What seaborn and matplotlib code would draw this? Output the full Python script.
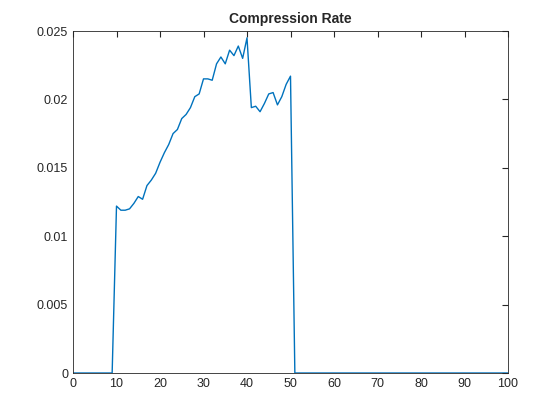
import matplotlib
matplotlib.use("Agg")
import matplotlib.pyplot as plt
import seaborn as sns
import numpy as np

sns.set_style("white")
plt.rcParams['font.family'] = ['Liberation Sans', 'DejaVu Sans']

x = list(range(0, 101))
mid = [0.0122, 0.0119, 0.0119, 0.0120, 0.0124, 0.0129, 0.0127, 0.0137, 0.0141, 0.0146,
       0.0154, 0.0161, 0.0167, 0.0175, 0.0178, 0.0186, 0.0189, 0.0194, 0.0202, 0.0204,
       0.0215, 0.0215, 0.0214, 0.0226, 0.0231, 0.0226, 0.0236, 0.0232, 0.0239, 0.0230,
       0.0245, 0.0194, 0.0195, 0.0191, 0.0197, 0.0204, 0.0205, 0.0196, 0.0202, 0.0211,
       0.0217]
rate = [0.0] * 10 + mid + [0.0] * 50

fig = plt.figure(figsize=(5.6, 4.2), dpi=100)
ax = fig.add_axes([73/560, 1-373/420, 435/560, 342/420])
sns.lineplot(x=x, y=rate, ax=ax, color='#0072BD', linewidth=1)
ax.set_xlim(0, 100)
ax.set_ylim(0, 0.025)
ax.set_xticks(range(0, 101, 10))
ax.set_yticks([0, 0.005, 0.01, 0.015, 0.02, 0.025])
ax.set_yticklabels(['0', '0.005', '0.01', '0.015', '0.02', '0.025'])
ax.tick_params(direction='in', length=4, labelsize=9, top=True, right=True, color='#262626', labelcolor='#262626')
for s in ax.spines.values():
    s.set_color('#262626'); s.set_linewidth(0.6)
ax.set_title('Compression Rate', fontsize=10, fontweight='bold')
fig.savefig('out.png', dpi=100)
